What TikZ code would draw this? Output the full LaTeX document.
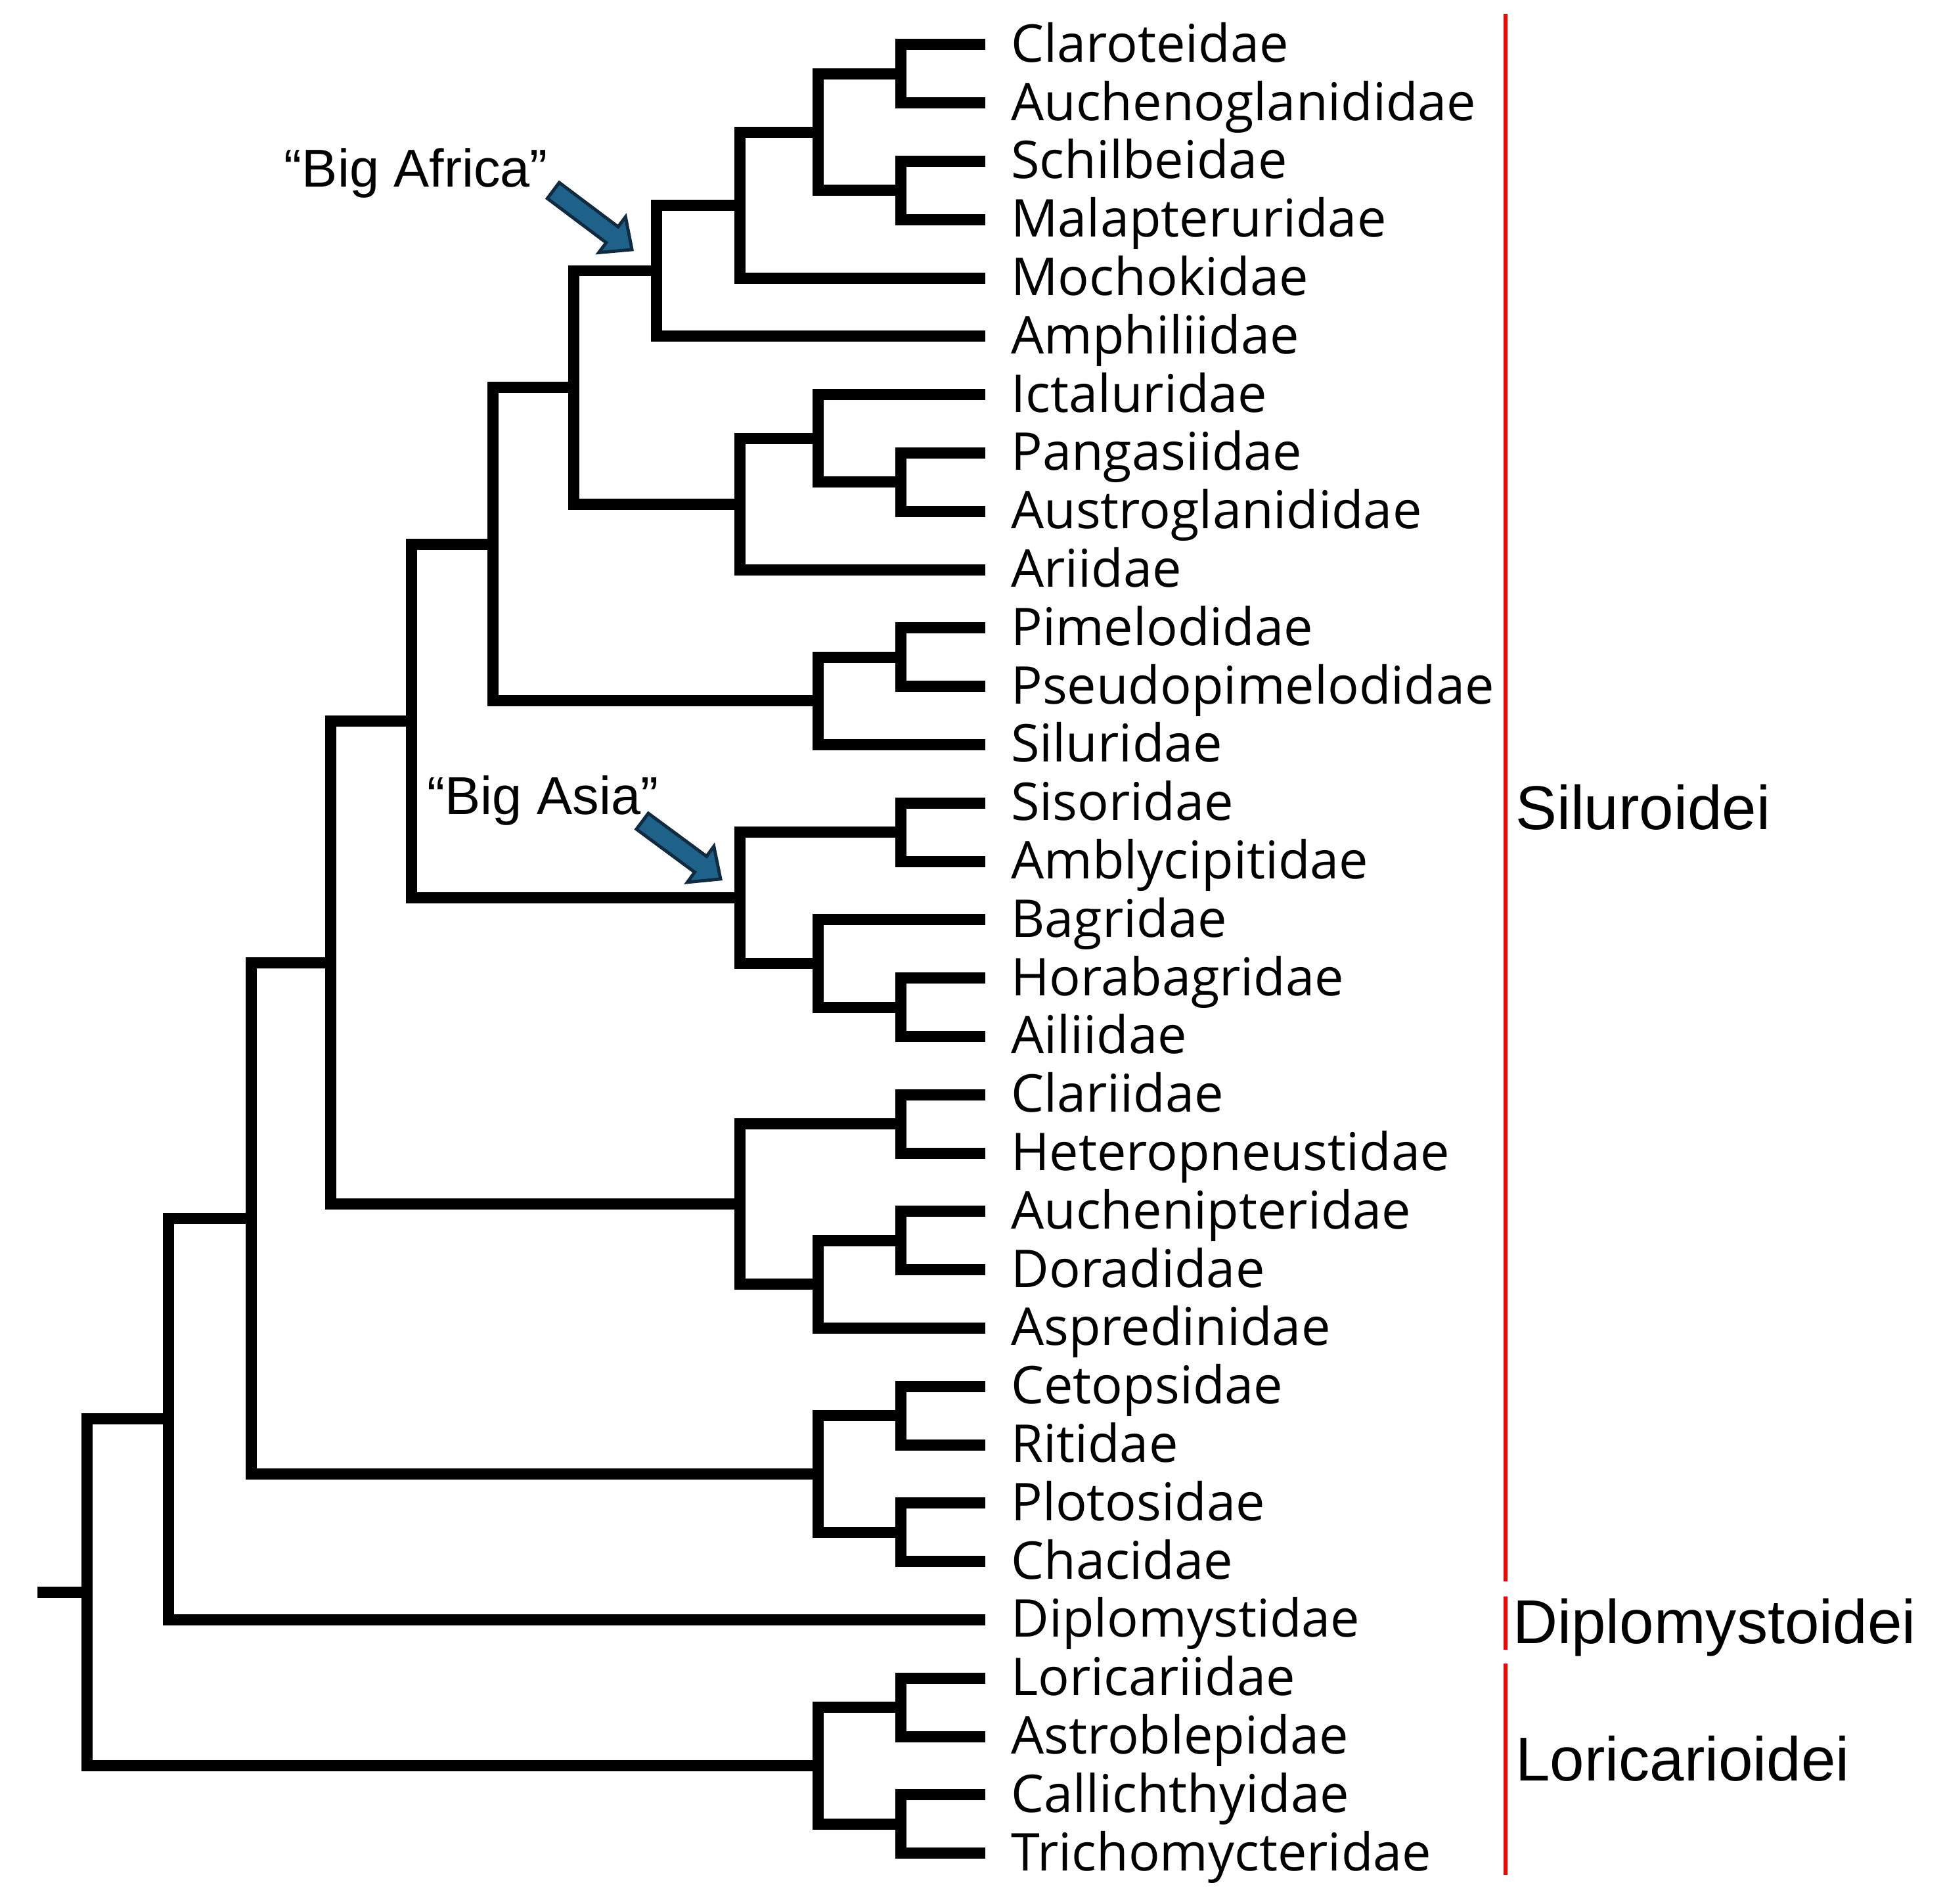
\documentclass[tikz,border=0pt]{standalone}
\usepackage{fontspec}
\setmainfont{Open Sans}
\newfontfamily\cladefont{Liberation Sans}
\definecolor{arrowfill}{RGB}{30,98,138}
\definecolor{arrowline}{RGB}{16,42,64}
\begin{document}
\begin{tikzpicture}[x=0.5pt,y=-0.5pt,
  br/.style={line width=4.5pt,line join=miter,line cap=butt},
  taxon/.style={anchor=base west,inner sep=0pt,outer sep=0pt,font=\fontsize{21.0}{25}\selectfont},
  clade/.style={anchor=base west,inner sep=0pt,outer sep=0pt,font=\cladefont\fontsize{25}{28}\selectfont},
  note/.style={anchor=base west,inner sep=0pt,outer sep=0pt,font=\cladefont\fontsize{21.5}{25}\selectfont},
  redbar/.style={draw=red,line width=1.5pt},
  bigarrow/.style={fill=arrowfill,draw=arrowline,line width=1.3pt,line join=miter}]
\fill[white] (0,0) rectangle (1568,1536);
\useasboundingbox (0,0) rectangle (1568,1536);

% leaf ends
\foreach \n/\t [count=\i from 0] in {
  clar/Claroteidae, auch/Auchenoglanididae, schi/Schilbeidae, mala/Malapteruridae,
  moch/Mochokidae, amph/Amphiliidae, icta/Ictaluridae, pang/Pangasiidae,
  aust/Austroglanididae, arii/Ariidae, pime/Pimelodidae, pseu/Pseudopimelodidae,
  silu/Siluridae, siso/Sisoridae, ambl/Amblycipitidae, bagr/Bagridae,
  hora/Horabagridae, aili/Ailiidae, clari/Clariidae, hete/Heteropneustidae,
  auchp/Auchenipteridae, dora/Doradidae, aspr/Aspredinidae, ceto/Cetopsidae,
  riti/Ritidae, plot/Plotosidae, chac/Chacidae, dipl/Diplomystidae,
  lori/Loricariidae, astr/Astroblepidae, call/Callichthyidae, tric/Trichomycteridae}{
  \coordinate (\n) at (795,{36+47.07*\i});
  \node[taxon] (t-\n) at (816,{50+47.07*\i}) {\t};
}

% internal nodes
\coordinate (n1)  at (727,59.535);
\coordinate (n2)  at (727,153.675);
\coordinate (n3)  at (660,106.605);
\coordinate (n4)  at (597,165.443);
\coordinate (afr) at (530,218.396);
\coordinate (n5)  at (727,389.025);
\coordinate (n6)  at (660,353.723);
\coordinate (n7)  at (597,406.676);
\coordinate (n8)  at (463,312.536);
\coordinate (n9)  at (727,530.235);
\coordinate (n10) at (660,565.538);
\coordinate (n11) at (398,439.037);
\coordinate (n12) at (727,671.445);
\coordinate (n13) at (727,812.655);
\coordinate (n14) at (660,777.353);
\coordinate (asia) at (597,724.399);
\coordinate (n15) at (332,581.718);
\coordinate (n16) at (727,906.795);
\coordinate (n17) at (727,1000.935);
\coordinate (n18) at (660,1036.238);
\coordinate (n19) at (597,971.516);
\coordinate (n20) at (267,776.617);
\coordinate (n21) at (727,1142.145);
\coordinate (n22) at (727,1236.285);
\coordinate (n23) at (660,1189.215);
\coordinate (n24) at (203,982.916);
\coordinate (n25) at (136,1144.903);
\coordinate (n26) at (727,1377.495);
\coordinate (n27) at (727,1471.635);
\coordinate (n28) at (660,1424.565);
\coordinate (root) at (70,1284.734);
\coordinate (stub) at (30,1284.734);

% branches
\foreach \p/\c in {
  n1/clar, n1/auch, n2/schi, n2/mala, n3/n1, n3/n2, n4/n3, n4/moch,
  afr/n4, afr/amph,
  n5/pang, n5/aust, n6/icta, n6/n5, n7/n6, n7/arii,
  n8/afr, n8/n7,
  n9/pime, n9/pseu, n10/n9, n10/silu,
  n11/n8, n11/n10,
  n12/siso, n12/ambl, n13/hora, n13/aili, n14/bagr, n14/n13, asia/n12, asia/n14,
  n15/n11, n15/asia,
  n16/clari, n16/hete, n17/auchp, n17/dora, n18/n17, n18/aspr, n19/n16, n19/n18,
  n20/n15, n20/n19,
  n21/ceto, n21/riti, n22/plot, n22/chac, n23/n21, n23/n22,
  n24/n20, n24/n23,
  n25/n24, n25/dipl,
  n26/lori, n26/astr, n27/call, n27/tric, n28/n26, n28/n27,
  root/n25, root/n28}{
  \draw[br] (\p) |- (\c);
}
\draw[br] (stub) -- (root);

% clade bars
\draw[redbar] (1215,11) -- (1215,1276);
\draw[redbar] (1215,1288) -- (1215,1331);
\draw[redbar] (1215,1342) -- (1215,1513);
\node[clade] (siluroidei) at (1223,669) {Siluroidei};
\node[clade] (diplomystoidei) at (1221,1326) {Diplomystoidei};
\node[clade] (loricarioidei) at (1223,1437) {Loricarioidei};

% annotations
\node[note] (bigafrica) at (229.5,151) {“Big Africa”};
\node[note] (bigasia) at (345,657) {“Big Asia”};
\draw[bigarrow] (451.3,147.3) -- (498.8,183.0) -- (504.8,175.0) -- (510,201.4)
  -- (483.2,203.8) -- (489.2,195.8) -- (441.7,160.1) -- cycle;
\draw[bigarrow] (523.2,656.2) -- (570.2,690.9) -- (576.1,682.8) -- (581.5,709.2)
  -- (554.7,711.8) -- (560.6,703.7) -- (513.6,669.0) -- cycle;
\end{tikzpicture}
\end{document}
